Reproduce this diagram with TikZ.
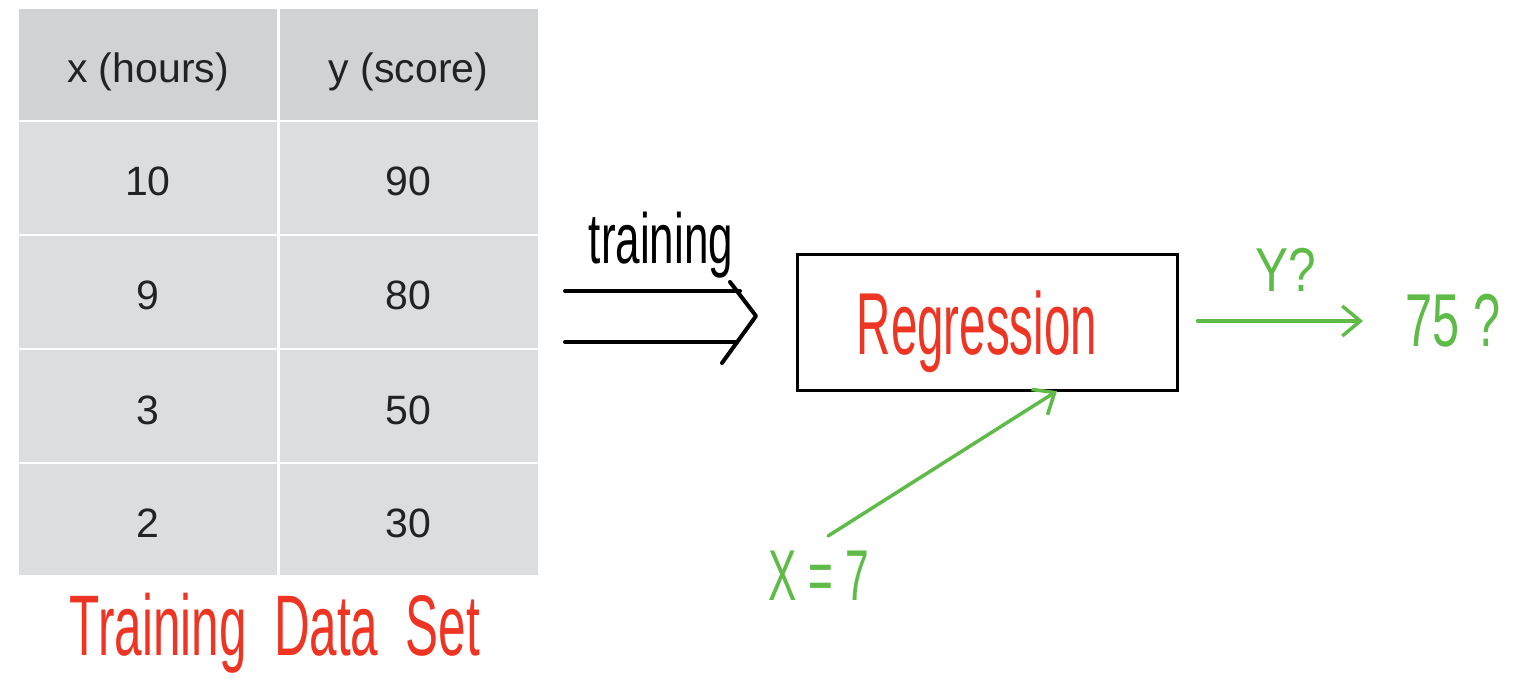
\documentclass[tikz,border=0pt]{standalone}
\usepackage{fontspec}
\setmainfont{Liberation Sans}
\usetikzlibrary{arrows.meta}
\definecolor{hdrgray}{HTML}{D1D2D4}
\definecolor{rowgray}{HTML}{DCDDDF}
\definecolor{hred}{HTML}{EE3524}
\definecolor{hgreen}{HTML}{5EBB47}
\definecolor{txt}{HTML}{222222}
\tikzset{
  cell/.style={rectangle, draw=white, line width=2pt, minimum width=260pt, minimum height=113.5pt, inner sep=0pt, text=txt, text height=36pt, text depth=0pt, font=\fontsize{41}{46}\selectfont},
  hdr/.style={cell, fill=hdrgray},
  body/.style={cell, fill=rowgray},
  hand/.style={inner sep=0pt, anchor=base},
  garrow/.style={draw=hgreen, line width=3.5pt, line cap=round, -{Straight Barb[length=18pt,width=30pt,line width=3.5pt]}},
  blkline/.style={draw=black, line width=4pt, line cap=round, line join=round}
}
\newcommand{\hw}[3]{\fontsize{#1}{#1}\selectfont\scalebox{#2}[1]{#3}}
\begin{document}
\begin{tikzpicture}[x=1pt,y=-1pt]
\useasboundingbox (0,0) rectangle (1530,692);
% table
\node[hdr]  (h1) at (148,64.5) {x (hours)};
\node[hdr]  (h2) at (408.5,64.5) {y (score)};
\node[body] (a1) at (148,178) {10};
\node[body] (a2) at (408.5,178) {90};
\node[body] (b1) at (148,292) {9};
\node[body] (b2) at (408.5,292) {80};
\node[body] (c1) at (148,406) {3};
\node[body] (c2) at (408.5,406) {50};
\node[body] (d1) at (148,519.5) {2};
\node[body] (d2) at (408.5,519.5) {30};
\node[hand, text=hred] (tds) at (275,655) {\hw{86}{0.575}{Training\ \ Data\ \ Set}};
% regression box
\node[draw=black, line width=3pt, minimum width=380pt, minimum height=135pt, inner sep=0pt] (reg) at (987,322.5) {};
\node[hand, text=hred] (regt) at (977,354) {\hw{88}{0.54}{Regression}};
% training double arrow
\coordinate (tin) at (565,316);
\draw[blkline] (tin) ++(0,-25) -- ++(175,0);
\draw[blkline] (tin) ++(0,26) -- ++(172,0);
\draw[blkline] (730,282) -- (756,316) -- (722,363);
\node[hand] (trn) at (661,264) {\hw{71}{0.62}{training}};
% output arrow
\coordinate (out) at (1363,321);
\draw[garrow, shorten <=19pt] (reg.east |- out) -- (out);
\node[hand, text=hgreen] (yq) at (1286,292) {\hw{62}{0.8}{Y?}};
\node[hand, text=hgreen] (ans) at (1453,346) {\hw{75}{0.65}{75 ?}};
% input arrow
\coordinate (xin) at (828,536);
\coordinate (xtip) at (1057,391);
\draw[garrow] (xin) -- (xtip);
\node[hand, text=hgreen] (xq) at (819,600) {\hw{72}{0.59}{X = 7}};
\end{tikzpicture}
\end{document}
